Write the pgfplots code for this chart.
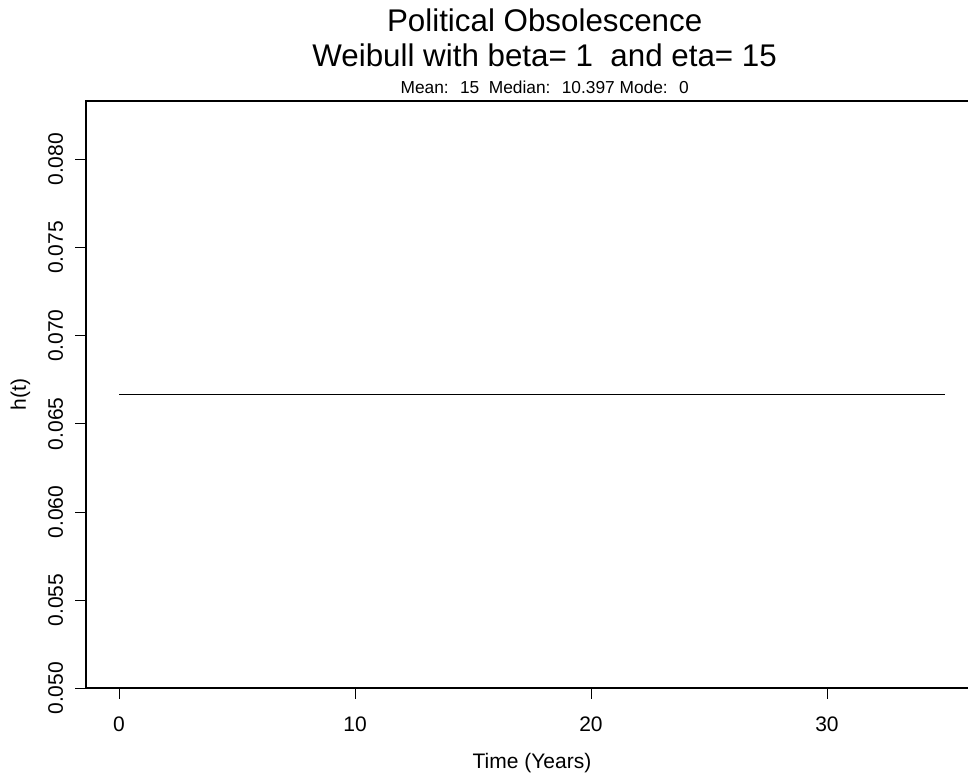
\documentclass[border=0pt]{standalone}
\usepackage{pgfplots}
\pgfplotsset{compat=1.18}
\usepackage{fontspec}
\setmainfont{Liberation Sans}
\begin{document}
\begin{tikzpicture}
\path[use as bounding box] (-64.5pt,-64.3pt) rectangle (661.5pt,516.2pt);
\begin{axis}[
  at={(0,0)}, anchor=south west,
  scale only axis, width=669pt, height=440.7pt,
  xmin=-1.4, xmax=36.4, ymin=0.050, ymax=0.08333,
  scaled y ticks=false, scaled x ticks=false,
  xtick={0,10,20,30}, xticklabels={0,10,20,30},
  ytick={0.050,0.055,0.060,0.065,0.070,0.075,0.080},
  yticklabels={0.050,0.055,0.060,0.065,0.070,0.075,0.080},
  tick pos=left, tick align=outside, major tick length=8pt,
  tick style={line width=0.6pt, black},
  axis line style={line width=1.3pt},
  ticklabel style={font=\fontsize{15.75}{18}\selectfont},
  xticklabel style={anchor=north, inner sep=0pt, yshift=-13pt},
  yticklabel style={xshift=-9pt, rotate=90, anchor=south, inner sep=0pt},
  xlabel={Time (Years)},
  xlabel style={font=\fontsize{15.75}{18}\selectfont, at={(axis description cs:0.5,-0.1357)}, anchor=base},
  ylabel={h(t)},
  ylabel style={font=\fontsize{15.75}{18}\selectfont, at={(axis description cs:-0.0673,0.5)}, anchor=base},
  clip=false,
]
\addplot[black, line width=0.8pt] coordinates {
(0,0.0666667) (5,0.0666667) (10,0.0666667) (15,0.0666667) (20,0.0666667) (25,0.0666667) (30,0.0666667) (35,0.0666667)};
\end{axis}
\node[anchor=base, font=\fontsize{23.5}{28}\selectfont] at (344pt,492.2pt) {Political Obsolescence};
\node[anchor=base, font=\fontsize{23.5}{28}\selectfont] at (344pt,466pt) {Weibull with beta= 1~ and eta= 15};
\node[anchor=base, font=\fontsize{13}{16}\selectfont] at (344pt,445.7pt) {Mean:~ 15~ Median:~ 10.397 Mode:~ 0};
\end{tikzpicture}
\end{document}
